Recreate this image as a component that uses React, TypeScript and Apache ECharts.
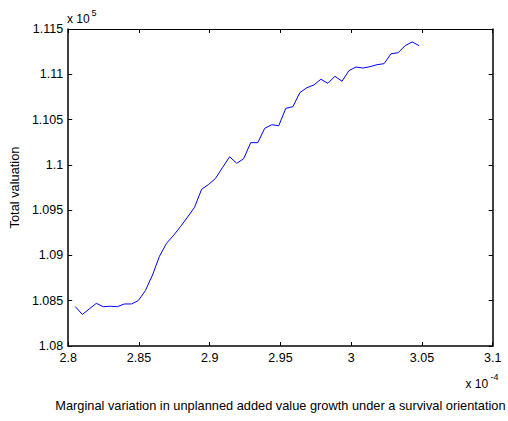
import React, { useEffect, useRef } from "react";
import * as echarts from "echarts";

// x values are in units of 1e-4, y values in units of 1e5
const xValues = [
  2.805, 2.81, 2.8149, 2.8199, 2.8248, 2.8298, 2.8348, 2.8397, 2.8447, 2.8496,
  2.8546, 2.8596, 2.8645, 2.8695, 2.8744, 2.8794, 2.8844, 2.8893, 2.8943, 2.8992,
  2.9042, 2.9092, 2.9141, 2.9191, 2.924, 2.929, 2.934, 2.9389, 2.9439, 2.9488,
  2.9538, 2.9588, 2.9637, 2.9687, 2.9736, 2.9786, 2.9836, 2.9885, 2.9935, 2.9984,
  3.0034, 3.0084, 3.0133, 3.0183, 3.0232, 3.0282, 3.0332, 3.0381, 3.0431, 3.048,
];
const yValues = [
  1.08436, 1.08348, 1.08409, 1.08471, 1.08434, 1.08439, 1.08434, 1.08464, 1.08464, 1.08502,
  1.08613, 1.08784, 1.0899, 1.09134, 1.0922, 1.09319, 1.09424, 1.09531, 1.0973, 1.09783,
  1.09852, 1.09973, 1.1009, 1.10017, 1.10068, 1.10245, 1.10245, 1.10404, 1.10443, 1.10432,
  1.10624, 1.10642, 1.10797, 1.10852, 1.10882, 1.10945, 1.109, 1.10978, 1.10923, 1.1104,
  1.1108, 1.11069, 1.11084, 1.11106, 1.11117, 1.11227, 1.11238, 1.11316, 1.11357, 1.11316,
];

const xAxisRange = { min: 2.8, max: 3.1, interval: 0.05 };
const yAxisRange = { min: 1.08, max: 1.115, interval: 0.005 };

const xTitle =
  "Marginal variation in unplanned added value growth under a survival orientation";
const yTitle = "Total valuation";
const xExponent = "-4";
const yExponent = "5";

const FONT = "'Liberation Sans', Arial, sans-serif";

export default function App() {
  const ref = useRef<HTMLDivElement>(null);

  useEffect(() => {
    if (!ref.current) return;
    const chart = echarts.init(ref.current, null, { renderer: "svg" });
    const line = (w: number) => ({ show: true, lineStyle: { color: "#000", width: w } });
    const axisTick = { show: true, inside: true, length: 4, lineStyle: { color: "#000", width: 1 } };
    const data = xValues.map((x, i) => [x, yValues[i]]);

    chart.setOption({
      animation: false,
      backgroundColor: "#fff",
      textStyle: { fontFamily: FONT },
      grid: { left: 67, right: 8, top: 29, bottom: 75, containLabel: false },
      xAxis: [
        {
          type: "value",
          position: "bottom",
          ...xAxisRange,
          axisLine: line(1.5),
          axisTick,
          splitLine: { show: false },
          axisLabel: { show: true, color: "#000", fontSize: 12.5, fontFamily: FONT, margin: 5 },
          name: xTitle,
          nameLocation: "middle",
          nameGap: 53,
          nameTextStyle: { color: "#000", fontSize: 12.8, fontFamily: FONT },
        },
        {
          type: "value",
          position: "top",
          ...xAxisRange,
          axisLine: line(1),
          axisTick,
          splitLine: { show: false },
          axisLabel: { show: false },
        },
      ],
      yAxis: [
        {
          type: "value",
          position: "left",
          ...yAxisRange,
          axisLine: line(1.5),
          axisTick,
          splitLine: { show: false },
          axisLabel: { show: true, color: "#000", fontSize: 12.5, fontFamily: FONT, margin: 5 },
          name: yTitle,
          nameLocation: "middle",
          nameRotate: 90,
          nameGap: 42,
          nameTextStyle: { color: "#000", fontSize: 12.8, fontFamily: FONT },
        },
        {
          type: "value",
          position: "right",
          ...yAxisRange,
          axisLine: line(1.5),
          axisTick,
          splitLine: { show: false },
          axisLabel: { show: false },
        },
      ],
      series: [
        {
          type: "line",
          xAxisIndex: 0,
          yAxisIndex: 0,
          data,
          showSymbol: false,
          symbol: "none",
          lineStyle: { color: "#0000ff", width: 1 },
        },
      ],
      graphic: [
        {
          type: "text",
          x: 67,
          y: 19,
          style: { text: "x 10", fill: "#000", font: `12px ${FONT}`, textAlign: "left", textVerticalAlign: "middle" },
        },
        {
          type: "text",
          x: 91.5,
          y: 12.5,
          style: { text: yExponent, fill: "#000", font: `9px ${FONT}`, textAlign: "left", textVerticalAlign: "middle" },
        },
        {
          type: "text",
          x: 465.5,
          y: 383.5,
          style: { text: "x 10", fill: "#000", font: `12px ${FONT}`, textAlign: "left", textVerticalAlign: "middle" },
        },
        {
          type: "text",
          x: 490.5,
          y: 376.5,
          style: { text: xExponent, fill: "#000", font: `9px ${FONT}`, textAlign: "left", textVerticalAlign: "middle" },
        },
      ],
    });
    return () => chart.dispose();
  }, []);

  return (
    <div
      ref={ref}
      style={{ position: "absolute", left: 0, top: 0, width: 508, height: 421 }}
    />
  );
}
